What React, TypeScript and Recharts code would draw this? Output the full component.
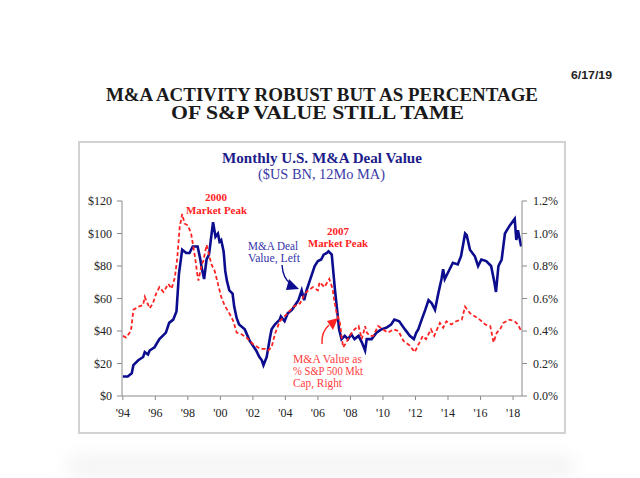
import { LineChart, Line, XAxis, YAxis } from 'recharts'

// M&A deal value, $US BN (12Mo MA), left axis
const dealYears = [
  1994.0, 1994.3, 1994.55, 1994.65, 1994.95, 1995.25, 1995.35, 1995.55, 1995.65, 1995.95,
  1996.25, 1996.45, 1996.65, 1996.85, 1997.1, 1997.3, 1997.45, 1997.65, 1997.9, 1998.1,
  1998.3, 1998.6, 1998.75, 1998.85, 1999.0, 1999.15, 1999.3, 1999.4, 1999.55, 1999.7,
  1999.85, 1999.95, 2000.05, 2000.2, 2000.3, 2000.4, 2000.55, 2000.75, 2000.85, 2001.0,
  2001.15, 2001.5, 2001.8, 2002.2, 2002.4, 2002.55, 2002.65, 2002.85, 2003.05, 2003.15,
  2003.35, 2003.65, 2003.72, 2003.95, 2004.15, 2004.4, 2004.6, 2004.8, 2005.0, 2005.15,
  2005.3, 2005.5, 2005.8, 2006.0, 2006.2, 2006.35, 2006.55, 2006.65, 2006.85, 2006.95,
  2007.05, 2007.2, 2007.3, 2007.45, 2007.65, 2007.85, 2008.05, 2008.25, 2008.5, 2008.7,
  2008.9, 2009.0, 2009.3, 2009.6, 2009.9, 2010.2, 2010.5, 2010.7, 2011.0, 2011.35,
  2011.65, 2011.9, 2012.05, 2012.17, 2012.38, 2012.6, 2012.8, 2013.0, 2013.2, 2013.4,
  2013.6, 2013.7, 2013.8, 2014.0, 2014.3, 2014.6, 2014.8, 2015.05, 2015.15, 2015.35,
  2015.65, 2015.85, 2016.05, 2016.35, 2016.65, 2016.85, 2016.95, 2017.1, 2017.3, 2017.5,
  2017.8, 2018.1, 2018.2, 2018.3, 2018.5,
]
const dealValues = [
  12, 12, 14, 19, 22, 24, 27, 25.5, 28, 30,
  35, 37, 39, 45, 47, 52, 75, 90, 88, 88,
  92, 92, 85, 79, 72, 84, 87, 95, 107, 98,
  100, 95, 96, 89, 77, 71, 65, 63, 55, 48,
  44, 41, 34, 28, 24, 22, 19, 24, 36, 41,
  44, 47, 49, 46, 51, 53, 56, 59, 65, 59,
  65, 71, 80, 83, 84, 87, 88, 89, 87, 76,
  65, 51, 41, 35, 37, 35, 38, 35, 37, 33,
  28, 35, 35, 39, 41, 42, 44, 47, 46, 41,
  37, 35, 39, 41, 47, 53, 59, 57, 53, 63,
  72, 78, 72, 76, 82, 81, 86, 100, 99, 90,
  86, 80, 84, 83, 80, 70, 64, 80, 84, 100,
  105, 109, 96, 102, 92,
]

// M&A value as % of S&P 500 market cap, right axis
const pctYears = [
  1994.0, 1994.2, 1994.5, 1994.65, 1994.95, 1995.25, 1995.35, 1995.65, 1995.85, 1996.05,
  1996.25, 1996.5, 1996.8, 1997.0, 1997.2, 1997.35, 1997.5, 1997.65, 1997.8, 1998.0,
  1998.2, 1998.45, 1998.55, 1998.65, 1998.85, 1998.95, 1999.15, 1999.3, 1999.45, 1999.65,
  1999.85, 2000.05, 2000.25, 2000.6, 2000.8, 2001.0, 2001.3, 2001.6, 2002.0, 2002.45,
  2002.75, 2002.95, 2003.15, 2003.35, 2003.65, 2004.05, 2004.5, 2004.9, 2005.2, 2005.4,
  2005.7, 2006.0, 2006.1, 2006.4, 2006.7, 2006.9, 2007.0, 2007.15, 2007.35, 2007.45,
  2007.55, 2007.75, 2007.95, 2008.25, 2008.5, 2008.7, 2008.9, 2009.0, 2009.2, 2009.4,
  2009.7, 2010.0, 2010.3, 2010.65, 2010.95, 2011.25, 2011.65, 2011.95, 2012.25, 2012.45,
  2012.65, 2012.95, 2013.15, 2013.5, 2013.7, 2013.9, 2014.2, 2014.5, 2014.85, 2015.05,
  2015.35, 2015.65, 2015.95, 2016.3, 2016.6, 2016.8, 2017.0, 2017.2, 2017.4, 2017.8,
  2018.1, 2018.3, 2018.5,
]
const pctValues = [
  0.37, 0.36, 0.40, 0.53, 0.55, 0.56, 0.61, 0.54, 0.57, 0.63,
  0.67, 0.64, 0.69, 0.66, 0.73, 0.85, 1.04, 1.12, 1.06, 1.05,
  1.00, 0.85, 0.77, 0.71, 0.81, 0.83, 0.93, 0.87, 0.81, 0.77,
  0.69, 0.61, 0.56, 0.50, 0.46, 0.39, 0.38, 0.36, 0.32, 0.29,
  0.29, 0.28, 0.30, 0.38, 0.46, 0.50, 0.55, 0.57, 0.63, 0.65,
  0.67, 0.65, 0.70, 0.67, 0.72, 0.66, 0.59, 0.51, 0.45, 0.37,
  0.30, 0.33, 0.37, 0.41, 0.43, 0.35, 0.43, 0.39, 0.37, 0.37,
  0.43, 0.41, 0.39, 0.41, 0.40, 0.34, 0.31, 0.27, 0.33, 0.37,
  0.35, 0.41, 0.37, 0.45, 0.42, 0.46, 0.44, 0.46, 0.47, 0.55,
  0.51, 0.49, 0.47, 0.44, 0.43, 0.33, 0.39, 0.41, 0.45, 0.47,
  0.46, 0.44, 0.40,
]

const yearTicks = [1994, 1996, 1998, 2000, 2002, 2004, 2006, 2008, 2010, 2012, 2014, 2016, 2018]
const dollarTicks = [0, 20, 40, 60, 80, 100, 120]
const pctTicks = [0, 0.2, 0.4, 0.6, 0.8, 1.0, 1.2]

const dealData = dealYears.map((year, i) => ({ year, deal: dealValues[i] }))
const pctData = pctYears.map((year, i) => ({ year, pct: pctValues[i] }))

const serif = '"Liberation Serif", "Times New Roman", serif'
const tickStyle = { fontFamily: serif, fontSize: 12, fill: '#222' }
const axisGray = '#8a8a8a'
const navy = '#0c0c8e'
const red = '#ff2222'

export default function App() {
  return (
    <div style={{ position: 'absolute', left: 0, top: 0, width: 640, height: 478, background: '#fff', overflow: 'hidden' }}>
      {/* soft shadow under the card */}
      <div style={{ position: 'absolute', left: 66, top: 454, width: 510, height: 24, background: '#f5f5f5', filter: 'blur(8px)', borderRadius: 20 }} />
      {/* card */}
      <div style={{ position: 'absolute', left: 78, top: 141, width: 484, height: 289, border: '2px solid #d2d2d2', background: '#fff' }} />

      <div style={{ position: 'absolute', left: 0, top: 0 }}>
        <LineChart width={640} height={478} margin={{ top: 201, right: 68, bottom: 52, left: 72 }}>
          <XAxis
            dataKey="year"
            type="number"
            domain={[1993.95, 2018.55]}
            ticks={yearTicks}
            tickFormatter={(y: number) => "'" + String(y).slice(2)}
            allowDataOverflow
            height={30}
            tickSize={4}
            tickMargin={8}
            stroke={axisGray}
            tick={tickStyle}
          />
          <YAxis
            yAxisId="left"
            domain={[0, 120]}
            ticks={dollarTicks}
            tickFormatter={(v: number) => '$' + v}
            width={50}
            tickSize={5}
            tickMargin={5}
            stroke={axisGray}
            tick={tickStyle}
          />
          <YAxis
            yAxisId="right"
            orientation="right"
            domain={[0, 1.2]}
            ticks={pctTicks}
            tickFormatter={(v: number) => v.toFixed(1) + '%'}
            width={50}
            tickSize={5}
            tickMargin={6}
            stroke={axisGray}
            tick={{ ...tickStyle, textAnchor: 'start' }}
          />
          <Line
            yAxisId="left"
            data={dealData}
            dataKey="deal"
            type="linear"
            stroke={navy}
            strokeWidth={2.6}
            dot={false}
            isAnimationActive={false}
          />
          <Line
            yAxisId="right"
            data={pctData}
            dataKey="pct"
            type="linear"
            stroke={red}
            strokeWidth={1.8}
            strokeDasharray="4 2.5"
            dot={false}
            isAnimationActive={false}
          />
        </LineChart>
      </div>

      <svg width={640} height={478} style={{ position: 'absolute', left: 0, top: 0, pointerEvents: 'none' }}>
        <text x={612} y={78.5} textAnchor="end" fontFamily='"Liberation Sans", Arial, sans-serif' fontWeight="bold" fontSize={11} fill="#222" textLength={41} lengthAdjust="spacingAndGlyphs">6/17/19</text>

        <text x={106} y={101} fontFamily={serif} fontWeight="bold" fontSize={19.5} fill="#1a1a1a" textLength={432} lengthAdjust="spacingAndGlyphs">M&amp;A ACTIVITY ROBUST BUT AS PERCENTAGE</text>
        <text x={171} y={119.3} fontFamily={serif} fontWeight="bold" fontSize={19.5} fill="#1a1a1a" textLength={293} lengthAdjust="spacingAndGlyphs">OF S&amp;P VALUE STILL TAME</text>

        <text x={222} y={163} fontFamily={serif} fontWeight="bold" fontSize={15} fill="#1c1c8a" textLength={200} lengthAdjust="spacingAndGlyphs">Monthly U.S. M&amp;A Deal Value</text>
        <text x={258} y={179} fontFamily={serif} fontSize={15} fill="#3a3aa6" textLength={127} lengthAdjust="spacingAndGlyphs">($US BN, 12Mo MA)</text>

        <text x={216} y={201} textAnchor="middle" fontFamily={serif} fontWeight="bold" fontSize={11} fill={red}>2000</text>
        <text x={186} y={213.5} fontFamily={serif} fontWeight="bold" fontSize={11} fill={red} textLength={61} lengthAdjust="spacingAndGlyphs">Market Peak</text>

        <text x={338} y={235} textAnchor="middle" fontFamily={serif} fontWeight="bold" fontSize={11} fill={red}>2007</text>
        <text x={308} y={247} fontFamily={serif} fontWeight="bold" fontSize={11} fill={red} textLength={60} lengthAdjust="spacingAndGlyphs">Market Peak</text>

        <text x={248} y={250} fontFamily={serif} fontSize={11.5} fill="#3434aa" textLength={50} lengthAdjust="spacingAndGlyphs">M&amp;A Deal</text>
        <text x={248} y={262} fontFamily={serif} fontSize={11.5} fill="#3434aa" textLength={52} lengthAdjust="spacingAndGlyphs">Value, Left</text>
        <path d="M282,265 Q283,279 291,284" fill="none" stroke={navy} strokeWidth={1.4} />
        <polygon points="299,289 289,279 286,290" fill={navy} />

        <text x={293} y={363} fontFamily={serif} fontSize={11.5} fill="#ff4040" textLength={69} lengthAdjust="spacingAndGlyphs">M&amp;A Value as</text>
        <text x={293} y={375} fontFamily={serif} fontSize={11.5} fill="#ff4040" textLength={70} lengthAdjust="spacingAndGlyphs">% S&amp;P 500 Mkt</text>
        <text x={293} y={387} fontFamily={serif} fontSize={11.5} fill="#ff4040" textLength={49} lengthAdjust="spacingAndGlyphs">Cap, Right</text>
        <path d="M322,344 Q321,332 329,325" fill="none" stroke={red} strokeWidth={1.4} />
        <polygon points="338,318 327,321 333,330" fill={red} />
      </svg>
    </div>
  )
}
